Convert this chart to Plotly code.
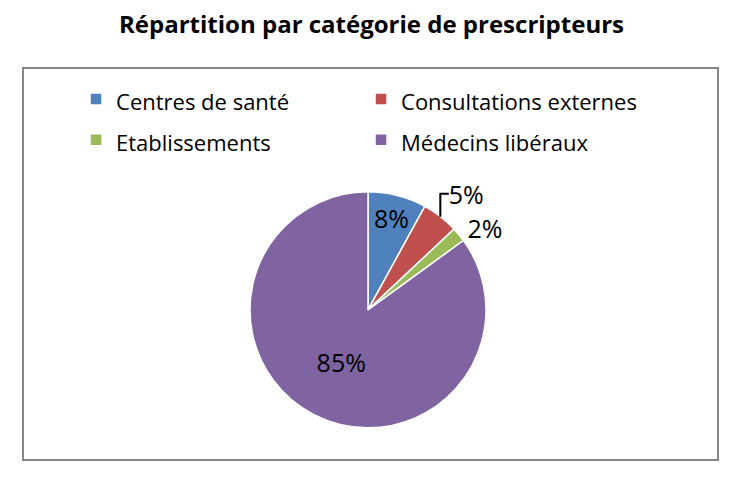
import plotly.graph_objects as go

# Data
categories = ['Centres de santé', 'Consultations externes', 'Etablissements', 'Médecins libéraux']
shares = [8, 5, 2, 85]
colors = ['#4F81BD', '#C0504D', '#9BBB59', '#8064A2']
text_positions = ['inside', 'outside', 'outside', 'inside']

FONT = 'Open Sans, sans-serif'

# page body has an 8px margin, so the figure is shrunk by that much
W, H = 735 - 8, 482 - 8

# legend text smaller than the legend font so rows get the wide spacing of the original
legend_labels = [f'<span style="font-size:22px">{c}</span>' for c in categories]

fig = go.Figure()

fig.add_trace(go.Pie(
    labels=legend_labels,
    values=shares,
    sort=False,
    direction='clockwise',
    rotation=0,
    marker=dict(colors=colors, line=dict(color='white', width=1.5)),
    textinfo='percent',
    texttemplate='%{percent:.0%}',
    textposition=text_positions,
    insidetextorientation='horizontal',
    textfont=dict(family=FONT, size=25, color='black'),
    domain=dict(x=[0.2464, 0.7464], y=[0.082, 0.684]),
    hoverinfo='percent',
))

fig.update_layout(
    width=W,
    height=H,
    margin=dict(l=15, r=17, t=60, b=22),
    paper_bgcolor='white',
    plot_bgcolor='white',
    font=dict(family=FONT, size=18, color='black'),
    title=dict(
        text='<b>Répartition par catégorie de prescripteurs</b>',
        x=0.5,
        xanchor='center',
        y=0.9645,
        yanchor='middle',
        font=dict(family=FONT, size=24, color='black'),
    ),
    uniformtext=dict(minsize=25, mode='show'),
    showlegend=True,
    legend=dict(
        orientation='h',
        x=0.0763,
        xanchor='left',
        y=0.9857,
        yanchor='top',
        entrywidth=240,
        font=dict(family=FONT, size=29, color='black'),
        bgcolor='rgba(0,0,0,0)',
        itemclick=False,
    ),
    shapes=[dict(
        type='rect', xref='paper', yref='paper',
        x0=0, x1=1, y0=0, y1=1,
        line=dict(color='#878787', width=2),
        fillcolor='rgba(0,0,0,0)',
        layer='below',
    )],
)

fig.write_html('out.html')
